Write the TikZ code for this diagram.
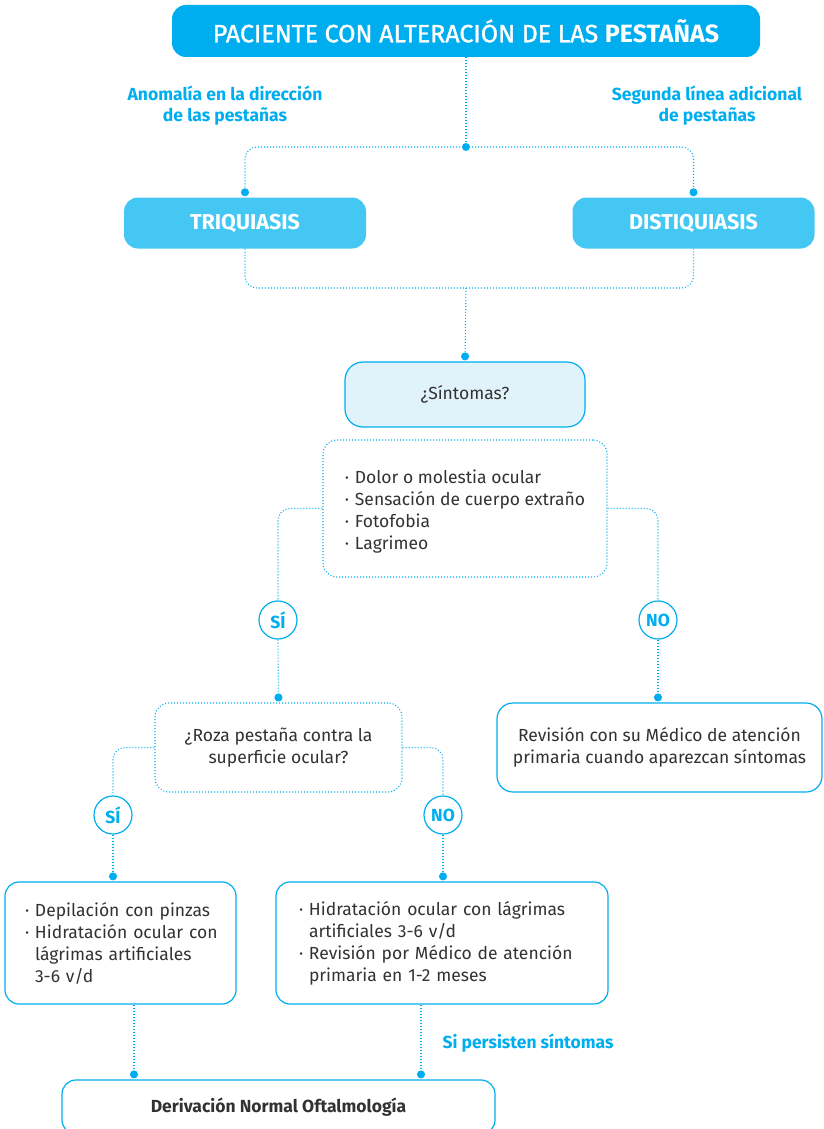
\documentclass[tikz,border=0pt]{standalone}
\usepackage{fontspec}
\setmainfont{Fira Sans}
\newfontfamily\headfont{Fira Sans}[FakeBold=1.3]
\usetikzlibrary{arrows.meta,calc}
\definecolor{brand}{RGB}{0,174,239}
\definecolor{brandlight}{RGB}{69,199,244}
\definecolor{paleblue}{RGB}{224,243,251}
\definecolor{ink}{RGB}{50,50,50}
\newcommand\bul{\makebox[10pt][l]{·}}
\newcommand\ind{\hspace*{10pt}}
\begin{document}
\begin{tikzpicture}[x=1pt,y=-1pt,
  every node/.style={font=\fontsize{17.5}{22}\selectfont, text=ink},
  solidbox/.style={rounded corners=14pt, inner sep=0pt},
  headbox/.style={solidbox, fill=brand, text=white},
  typebox/.style={solidbox, fill=brandlight, text=white, font=\fontsize{21.5}{24}\selectfont\bfseries, minimum width=242, minimum height=51},
  outlinebox/.style={solidbox, draw=brand, line width=1.2pt, fill=white},
  dotbox/.style={rounded corners=14pt, draw=brand, line width=1.1pt, dash pattern=on 1pt off 2pt, inner sep=0pt},
  answer/.style={circle, draw=brand, line width=1.2pt, fill=white, minimum size=38, inner sep=0pt, text=brand, font=\fontsize{17.5}{17.5}\selectfont\bfseries},
  link/.style={draw=brand, line width=1.1pt, dash pattern=on 1pt off 2pt, rounded corners=12pt},
  enddot/.style={-{Circle[length=8pt]}, shorten >=1pt},
  note/.style={text=brand, font=\fontsize{17.5}{21}\selectfont\bfseries, align=center},
  joint/.style={circle, fill=brand, minimum size=8, inner sep=0pt},
]
\useasboundingbox (0,0) rectangle (823,1129);
\clip (0,0) rectangle (823,1129);

% header and the two kinds of alteration
\node[headbox, minimum width=588, minimum height=52, font=\headfont\fontsize{25}{26}\selectfont] (title) at (466,31) {PACIENTE CON ALTERACIÓN DE LAS {\normalfont\fontsize{25}{26}\selectfont\bfseries PESTAÑAS}};
\node[note] (lab1) at (225,106) {Anomalía en la dirección\\de las pestañas};
\node[note] (lab2) at (707,106) {Segunda línea adicional\\de pestañas};
\node[joint] (split) at (466,147) {};
\node[typebox] (tri) at (245,223) {TRIQUIASIS};
\node[typebox] (dis) at (693.5,223) {DISTIQUIASIS};
\coordinate (merge) at (466,288);

% symptom question
\node[outlinebox, fill=paleblue, minimum width=240, minimum height=65, rounded corners=18pt] (sint) at (465,394.5) {¿Síntomas?};
\node[dotbox, minimum width=284, minimum height=137, align=left] (sym) at (465,508.5)
  {\rule{0pt}{20pt}\bul Dolor o molestia ocular\\ \bul Sensación de cuerpo extraño\\ \bul Fotofobia\\ \bul Lagrimeo};
\node[answer] (si1) at (278,620) {SÍ};
\node[answer] (no1) at (658,620) {NO};

% second question and follow-up
\node[dotbox, minimum width=247, minimum height=89, align=center] (roza) at (278.5,747.5) {¿Roza pestaña contra la\\superficie ocular?};
\node[outlinebox, minimum width=325, minimum height=89, align=center, rounded corners=16pt] (rev) at (659.5,747.5) {Revisión con su Médico de atención\\primaria cuando aparezcan síntomas};
\node[answer] (si2) at (113,815) {SÍ};
\node[answer] (no2) at (443,815) {NO};

% treatments
\node[outlinebox, minimum height=122, text width=191, inner xsep=20, align=left] (trl) at (120.5,943)
  {\mbox{\bul Depilación con pinzas}\\ \mbox{\bul Hidratación ocular con}\\ \mbox{\ind lágrimas artificiales}\\ \mbox{\ind 3-6 v/d}};
\node[outlinebox, minimum height=122, text width=286, inner xsep=23, align=left] (trr) at (442,943)
  {\mbox{\bul Hidratación ocular con lágrimas}\\ \mbox{\ind artificiales 3-6 v/d}\\ \mbox{\bul Revisión por Médico de atención}\\ \mbox{\ind primaria en 1-2 meses}};
\node[outlinebox, minimum width=433, minimum height=54, font=\fontsize{17.5}{20}\selectfont\bfseries] (der) at (278.5,1107) {Derivación Normal Oftalmología};
\node[note, anchor=west] (persist) at (439,1043) {Si persisten síntomas};
\coordinate (l1) at ([xshift=13.5pt]trl.south);
\coordinate (r1) at ([xshift=-21pt]trr.south);

% connectors
\draw[link] (title.south) -- (split);
\draw[link, enddot] (split.center) -| (tri.north);
\draw[link, enddot] (split.center) -| (dis.north);
\draw[link] (tri.south) |- (merge) -| (dis.south);
\draw[link, enddot] (merge) -- (sint.north);
\draw[link] (sym.west) -| (si1.north);
\draw[link] (sym.east) -| (no1.north);
\draw[link, enddot] (si1.south) -- (roza.north);
\draw[link, enddot] (no1.south) -- (no1.south |- rev.north);
\draw[link] (roza.west) -| (si2.north);
\draw[link] (roza.east) -| (no2.north);
\draw[link, enddot] (si2.south) -- (si2.south |- trl.north);
\draw[link, enddot] (no2.south) -- (no2.south |- trr.north);
\draw[link, enddot] (l1) -- (l1 |- der.north);
\draw[link, enddot] (r1) -- (r1 |- der.north);
\end{tikzpicture}
\end{document}
